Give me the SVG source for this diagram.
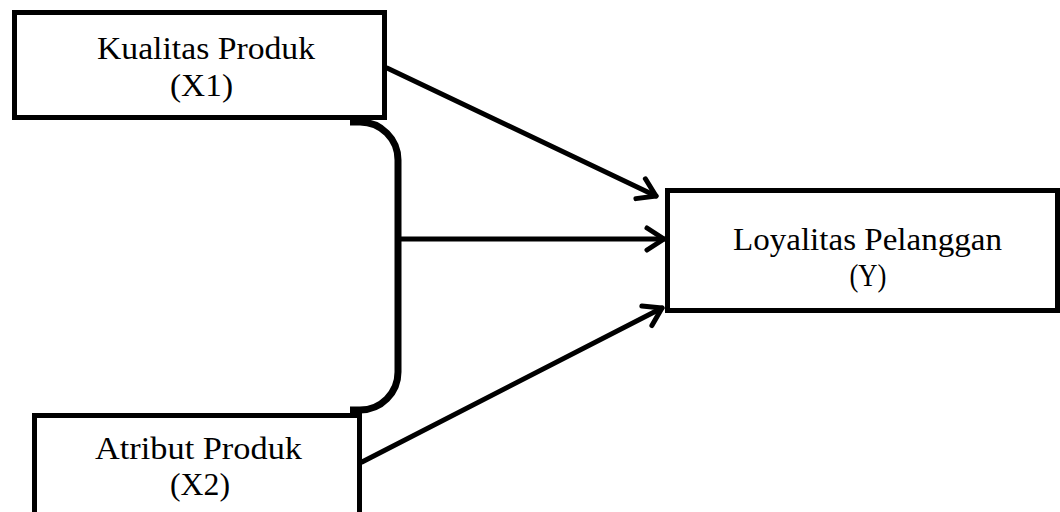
<svg xmlns="http://www.w3.org/2000/svg" width="1060" height="512" viewBox="0 0 1060 512">
<style>
.box{fill:#fff;stroke:#000;stroke-width:5}
.t{font-family:"Liberation Serif","Times New Roman",serif;font-size:31px;fill:#000;text-anchor:middle}
.c{fill:none;stroke:#000;stroke-width:5;stroke-linecap:round}
.br{fill:none;stroke:#000;stroke-width:7;stroke-linejoin:round}
</style>
<defs>
<marker id="ah" markerUnits="userSpaceOnUse" viewBox="-22 -15 26 30" markerWidth="26" markerHeight="30" refX="0" refY="0" orient="auto">
<path d="M-17,-11 L0,0 L-17,11" fill="none" stroke="#000" stroke-width="5" stroke-linecap="round" stroke-linejoin="round"/>
</marker>
</defs>
<g id="connectors">
<path class="c" d="M387,68 L656,196" marker-end="url(#ah)"/>
<path class="c" d="M401,239 L664,239" marker-end="url(#ah)"/>
<path class="c" d="M362,462 L662,308" marker-end="url(#ah)"/>
<path class="br" d="M350,122 L360,122 A38,38 0 0 1 398,160 L398,372 A38,38 0 0 1 360,410 L350,410"/>
</g>
<g id="x1">
<rect class="box" x="14.5" y="12.5" width="370" height="105"/>
<text class="t" x="206" y="59" textLength="218" lengthAdjust="spacingAndGlyphs">Kualitas Produk</text>
<text class="t" x="201.5" y="96" textLength="63" lengthAdjust="spacingAndGlyphs">(X1)</text>
</g>
<g id="x2">
<rect class="box" x="34.5" y="415.5" width="325" height="110"/>
<text class="t" x="198.5" y="459" textLength="207" lengthAdjust="spacingAndGlyphs">Atribut Produk</text>
<text class="t" x="200" y="495" textLength="60" lengthAdjust="spacingAndGlyphs">(X2)</text>
</g>
<g id="y">
<rect class="box" x="667.5" y="190.5" width="390" height="120"/>
<text class="t" x="867.5" y="250" textLength="269" lengthAdjust="spacingAndGlyphs">Loyalitas Pelanggan</text>
<text class="t" x="868" y="286" textLength="37" lengthAdjust="spacingAndGlyphs">(Y)</text>
</g>
</svg>
